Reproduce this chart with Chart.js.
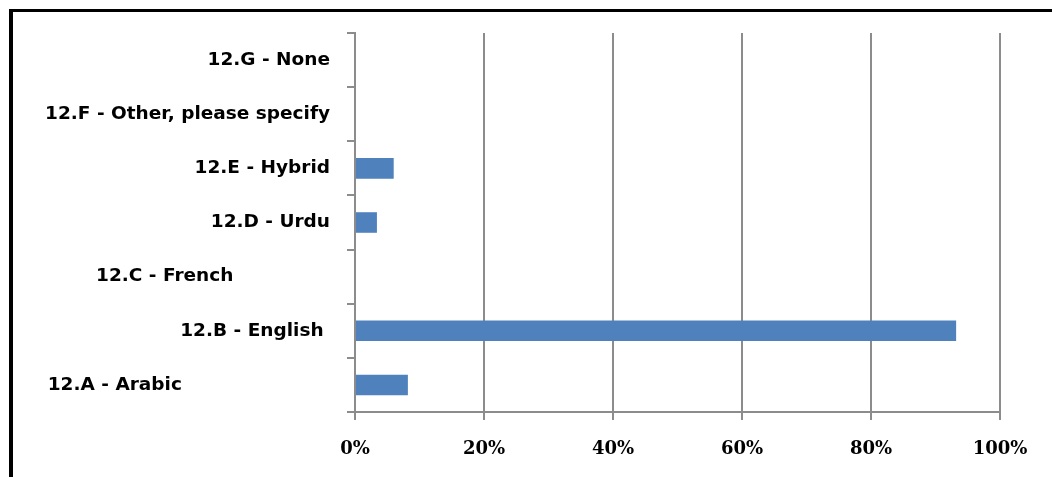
<!DOCTYPE html>
<html>
<head>
<meta charset="utf-8">
<script src="https://cdn.jsdelivr.net/npm/chart.js@4/dist/chart.umd.min.js"></script>
<style>
    html, body { margin: 0; padding: 0; background: #fff; }
    #wrap { position: relative; width: 1052px; height: 477px; }
    #frame {
        position: absolute; left: 9px; top: 9px; right: 0; bottom: 0;
        border-left: 4px solid #000; border-top: 3px solid #000;
        pointer-events: none;
    }
</style>
</head>
<body>
<div id="wrap">
    <canvas id="langChart" width="1052" height="477"></canvas>
    <div id="frame"></div>
</div>
<script>
// ==========================================
// Data (bottom to top, axis is reversed)
// ==========================================
const categories = [
    '12.A - Arabic                       ',
    '12.B - English ',
    '12.C - French               ',
    '12.D - Urdu',
    '12.E - Hybrid',
    '12.F - Other, please specify',
    '12.G - None'
];
const percentValues = [8.2, 93.2, 0, 3.4, 6.0, 0, 0];
const xTicks = [0, 20, 40, 60, 80, 100];

const GRID = '#8c8c8c';

new Chart(document.getElementById('langChart'), {
    type: 'bar',
    data: {
        labels: categories,
        datasets: [{
            data: percentValues,
            backgroundColor: '#4f81bd',
            barPercentage: 0.38,
            categoryPercentage: 1
        }]
    },
    options: {
        indexAxis: 'y',
        responsive: false,
        animation: false,
        layout: { padding: { left: 0, right: 52, top: 33, bottom: 0 } },
        plugins: {
            legend: { display: false },
            tooltip: { enabled: false }
        },
        scales: {
            x: {
                min: xTicks[0],
                max: xTicks[xTicks.length - 1],
                afterFit: function(scale) { scale.height = 65; },
                afterBuildTicks: function(scale) {
                    scale.ticks = xTicks.map(v => ({ value: v }));
                },
                grid: { color: GRID, lineWidth: 2, tickLength: 8 },
                border: { color: GRID, width: 2 },
                ticks: {
                    padding: 19,
                    color: '#000',
                    font: { family: 'DejaVu Serif', size: 18, weight: 'bold' },
                    callback: v => v + '%'
                }
            },
            y: {
                reverse: true,
                afterFit: function(scale) { scale.width = 355; },
                grid: { drawOnChartArea: false, color: GRID, lineWidth: 2, tickLength: 8 },
                border: { color: GRID, width: 2 },
                ticks: {
                    padding: 17,
                    color: '#000',
                    font: { family: 'DejaVu Sans', size: 18.5, weight: 'bold' }
                }
            }
        }
    }
});
</script>
</body>
</html>
